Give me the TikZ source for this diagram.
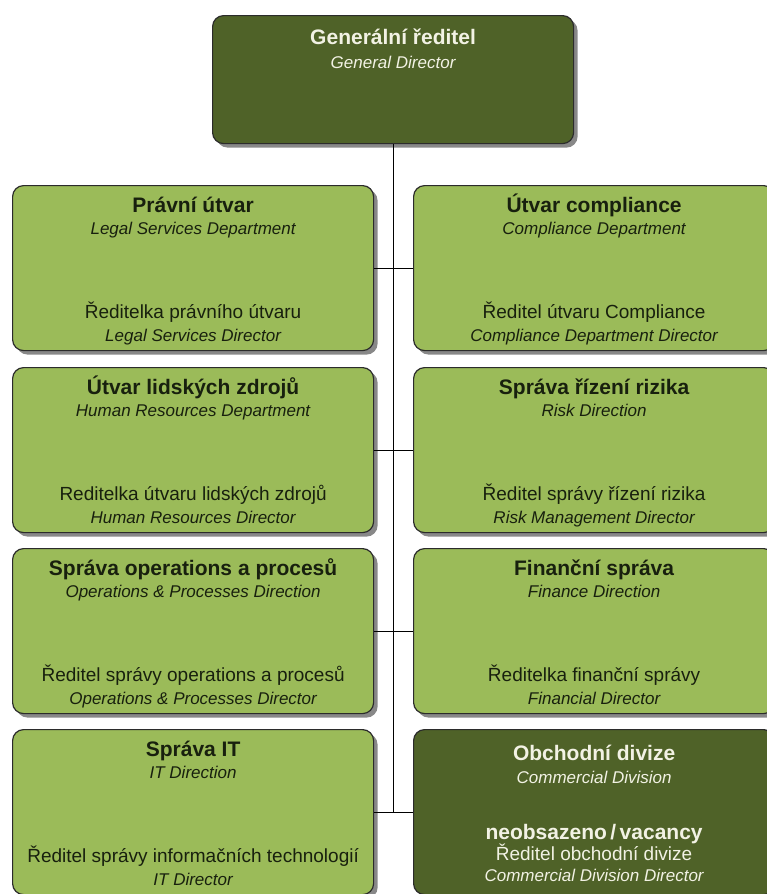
\documentclass[tikz,border=0pt]{standalone}
\usepackage{fontspec}
\setmainfont{Liberation Sans}
\usetikzlibrary{shadows}
\definecolor{lightgreen}{HTML}{9BBB59}
\definecolor{darkgreen}{HTML}{4F6228}
\definecolor{darktext}{HTML}{18200E}
\definecolor{lighttext}{HTML}{F2F2E4}
\definecolor{edgecol}{HTML}{2B2B2B}
\tikzset{
  orgbox/.style={draw=edgecol, line width=1.2pt, rounded corners=11pt,
    drop shadow={shadow xshift=4pt, shadow yshift=-4pt, fill=black!55, opacity=0.85},
    anchor=north west, inner sep=0pt, minimum width=361pt},
  lightbox/.style={orgbox, fill=lightgreen, minimum height=165pt},
  darkbox/.style={orgbox, fill=darkgreen, minimum height=165pt},
  topbox/.style={orgbox, fill=darkgreen, minimum height=128pt},
  ttl/.style={font=\fontsize{21}{24}\selectfont\bfseries, anchor=base, inner sep=0pt},
  subt/.style={font=\fontsize{17}{20}\selectfont\itshape, anchor=base, inner sep=0pt},
  dirt/.style={font=\fontsize{19}{22}\selectfont, anchor=base, inner sep=0pt},
  conn/.style={draw=black, line width=0.9pt}
}
\newcommand{\orgunit}[9]{%
  \node[#4] (#1) at (#2,#3) {};
  \node[ttl, text=#9] (#1-t) at ([yshift=-27.5pt]#1.north) {#5};
  \node[subt, text=#9] (#1-s) at ([yshift=-49.5pt]#1.north) {#6};
  \node[dirt, text=#9] (#1-d) at ([yshift=-133pt]#1.north) {#7};
  \node[subt, text=#9] (#1-ds) at ([yshift=-156pt]#1.north) {#8};
}
\begin{document}
\begin{tikzpicture}[x=1pt, y=-1pt]
\useasboundingbox (0,0) rectangle (766,894);
% top box
\node[topbox] (gd) at (212,15) {};
\node[ttl, text=lighttext] (gd-t) at ([yshift=-29.5pt]gd.north) {Generální ředitel};
\node[subt, text=lighttext] (gd-s) at ([yshift=-53pt]gd.north) {General Director};
% row 1
\orgunit{r1l}{12}{185}{lightbox}{Právní útvar}{Legal Services Department}{Ředitelka právního útvaru}{Legal Services Director}{darktext}
\orgunit{r1r}{413}{185}{lightbox}{Útvar compliance}{Compliance Department}{Ředitel útvaru Compliance}{Compliance Department Director}{darktext}
% row 2
\orgunit{r2l}{12}{367}{lightbox}{Útvar lidských zdrojů}{Human Resources Department}{Reditelka útvaru lidských zdrojů}{Human Resources Director}{darktext}
\orgunit{r2r}{413}{367}{lightbox}{Správa řízení rizika}{Risk Direction}{Ředitel správy řízení rizika}{Risk Management Director}{darktext}
% row 3
\orgunit{r3l}{12}{548}{lightbox}{Správa operations a procesů}{Operations \& Processes Direction}{Ředitel správy operations a procesů}{Operations \& Processes Director}{darktext}
\orgunit{r3r}{413}{548}{lightbox}{Finanční správa}{Finance Direction}{Ředitelka finanční správy}{Financial Director}{darktext}
% row 4
\orgunit{r4l}{12}{729}{lightbox}{Správa IT}{IT Direction}{Ředitel správy informačních technologií}{IT Director}{darktext}
\node[darkbox] (r4r) at (413,729) {};
\node[ttl, text=lighttext] (r4r-t) at ([yshift=-31.5pt]r4r.north) {Obchodní divize};
\node[subt, text=lighttext] (r4r-s) at ([yshift=-54pt]r4r.north) {Commercial Division};
\node[ttl, text=lighttext] (r4r-v) at ([yshift=-110.5pt]r4r.north) {neobsazeno\,/\,vacancy};
\node[dirt, text=lighttext] (r4r-d) at ([yshift=-131pt]r4r.north) {Ředitel obchodní divize};
\node[subt, text=lighttext] (r4r-ds) at ([yshift=-152pt]r4r.north) {Commercial Division Director};
% connectors
\coordinate (spineend) at (gd.south |- r4l.east);
\draw[conn] (gd.south) -- (spineend);
\draw[conn] (r1l.east) -- (r1r.west);
\draw[conn] (r2l.east) -- (r2r.west);
\draw[conn] (r3l.east) -- (r3r.west);
\draw[conn] (r4l.east) -- (r4r.west);
\end{tikzpicture}
\end{document}
